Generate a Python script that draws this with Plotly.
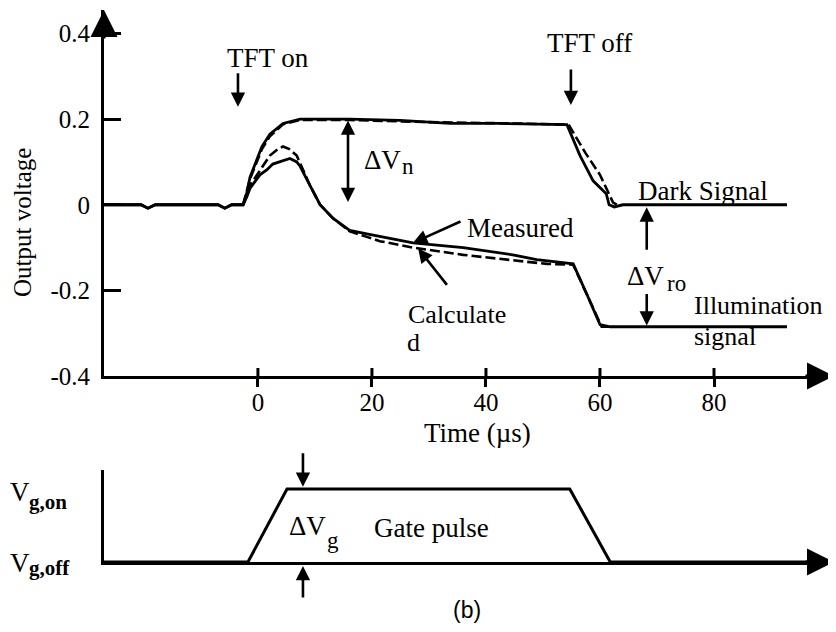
import plotly.graph_objects as go

# ---------------- data ----------------
# Time axis (µs)
x_tick_vals = [0, 20, 40, 60, 80]
x_tick_text = ["0", "20", "40", "60", "80"]
y_tick_vals = [-0.4, -0.2, 0, 0.2, 0.4]
y_tick_text = ["-0.4", "-0.2", "0", "0.2", "0.4"]

# Dark signal, measured (solid)
t_dark_meas = [-27, -20.5, -19.3, -18, -7, -5.8, -4.6, -2.6, -1.9, -1.4, 0.7, 2.1, 4.4, 7.4,
               16.1, 24.9, 33.7, 42.5, 54.2, 56.5, 58.8, 61.1, 61.6, 62.5, 64, 92.8]
v_dark_meas = [0, 0, -0.008, 0, 0, -0.008, 0, 0, 0.03, 0.064, 0.136, 0.165, 0.19, 0.2,
               0.2, 0.197, 0.19, 0.19, 0.187, 0.115, 0.056, 0.026, 0.0, -0.005, 0, 0]

# Dark signal, calculated (dashed)
t_dark_calc = [-2.6, -1.4, 0.7, 2.1, 4.4, 7.4, 16.1, 30, 45, 54.5, 57.5, 60, 62.3, 63]
v_dark_calc = [0, 0.06, 0.13, 0.16, 0.188, 0.198, 0.198, 0.193, 0.19, 0.187, 0.12, 0.07, 0.005, 0]

# Illumination signal, measured (solid)
t_illum_meas = [-27, -20.5, -19.3, -18, -7, -5.8, -4.6, -2.6, -1.9, -1.4, 0.35, 1.6, 2.6, 4.4,
                5.6, 6.8, 7.4, 9.1, 10.9, 13.2, 16.1, 19.1, 21.4, 24.9, 27.2, 36.0, 44.7,
                48.9, 55.3, 57.7, 60.0, 61.8, 92.8]
v_illum_meas = [0, 0, -0.008, 0, 0, -0.008, 0, 0, 0.02, 0.038, 0.07, 0.082, 0.095, 0.103,
                0.108, 0.1, 0.09, 0.046, 0, -0.032, -0.060, -0.068, -0.074, -0.083, -0.089,
                -0.1, -0.117, -0.128, -0.138, -0.209, -0.28, -0.285, -0.285]

# Illumination signal, calculated (dashed)
t_illum_calc = [-2.6, -1.4, 0.35, 2.1, 3.5, 4.4, 5.5, 6.8, 9.1, 10.9, 13.2, 16.1, 19.1, 21.4,
                27.2, 36.0, 47.7, 50.7, 55.3, 57.7, 60.3, 62.5]
v_illum_calc = [0, 0.045, 0.08, 0.115, 0.13, 0.136, 0.13, 0.115, 0.046, 0, -0.032, -0.062,
                -0.075, -0.085, -0.1, -0.117, -0.134, -0.138, -0.14, -0.209, -0.285, -0.285]

# Gate pulse (Vg,off = 0, Vg,on = 1)
t_gate = [-27, -1.75, 5.1, 54.7, 61.8, 101]
v_gate = [0, 0, 1, 1, 0, 0]

# ---------------- figure ----------------
SERIF = "Liberation Serif"
FS = 27
TICK_FS = 25
X_RANGE = [-27, 101.05]
TOP_DOM = [0.33696, 1.0]
BOT_DOM = [0.0, 0.16667]

fig = go.Figure()
solid = dict(color="black", width=2.8)
dashed = dict(color="black", width=2.6, dash="10px,4px")

fig.add_trace(go.Scatter(x=t_illum_meas, y=v_illum_meas, mode="lines", line=solid,
                         xaxis="x", yaxis="y", showlegend=False, hoverinfo="skip"))
fig.add_trace(go.Scatter(x=t_dark_meas, y=v_dark_meas, mode="lines", line=solid,
                         xaxis="x", yaxis="y", showlegend=False, hoverinfo="skip"))
fig.add_trace(go.Scatter(x=t_illum_calc, y=v_illum_calc, mode="lines", line=dashed,
                         xaxis="x", yaxis="y", showlegend=False, hoverinfo="skip"))
fig.add_trace(go.Scatter(x=t_dark_calc, y=v_dark_calc, mode="lines", line=dashed,
                         xaxis="x", yaxis="y", showlegend=False, hoverinfo="skip"))
fig.add_trace(go.Scatter(x=t_gate, y=v_gate, mode="lines", line=dict(color="black", width=3),
                         xaxis="x2", yaxis="y2", showlegend=False, hoverinfo="skip"))

ann = []


def txt(x, y, s, xref="x", yref="y", size=FS, xanchor="center", yanchor="middle",
        family=SERIF, **kw):
    ann.append(dict(x=x, y=y, xref=xref, yref=yref, text=s, showarrow=False,
                    xanchor=xanchor, yanchor=yanchor,
                    font=dict(family=family, size=size, color="black"), **kw))


def arrow(x, y, ax, ay, xref="x", yref="y", size=1.1, width=2.6, **kw):
    ann.append(dict(x=x, y=y, xref=xref, yref=yref, ax=ax, ay=ay, text="",
                    showarrow=True, arrowhead=2, arrowsize=size, arrowwidth=width,
                    arrowcolor="black", **kw))


# axis arrows
arrow(0, 1.0, 0, 30, xref="paper", yref="paper", size=1.8, width=3)
arrow(1.0, TOP_DOM[0], -30, 0, xref="paper", yref="paper", size=1.8, width=3)
arrow(1.0, 0.0, -30, 0, xref="paper", yref="paper", size=1.8, width=3)

# TFT on / off
txt(1.75, 0.343, "TFT on")
arrow(-3.5, 0.229, 0, -35)
txt(58.2, 0.378, "TFT off")
arrow(54.9, 0.233, 0, -37)

# Delta V_n
arrow(15.8, 0.197, 15.8, 0.003, axref="x", ayref="y", arrowside="end+start")
txt(18.2, 0.1047, "ΔV", xanchor="left")
txt(24.9, 0.0883, "n", xanchor="left", size=23)

# Dark signal label
txt(78.1, 0, "Dark Signal", yshift=14)

# Delta V_ro
arrow(68.2, -0.006, 0, 44)
arrow(68.2, -0.282, 0, -33)
txt(64.4, -0.166, "ΔV", xanchor="left")
txt(71.4, -0.185, "ro", xanchor="left", size=23)

# Illumination signal
txt(76.1, -0.235, "Illumination", xanchor="left", size=26)
txt(76.1, -0.307, "signal", xanchor="left", size=26)

# Measured / Calculated
txt(46.0, -0.054, "Measured")
arrow(27.2, -0.089, 49, -22)
txt(34.9, -0.256, "Calculate", size=26)
txt(25.8, -0.321, "d", xanchor="left", size=26)
arrow(28.1, -0.102, 30, 38)

# axis titles
txt(-0.111, 0.616, "Output voltage", xref="paper", yref="paper", textangle=-90, size=25)
txt(38.6, 0.2337, "Time (µs)", yref="paper")

# gate pulse panel
txt(-0.1315, 0.1268, "V", xref="paper", yref="paper", xanchor="left")
txt(-0.1055, 0.1087, "<b>g,on</b>", xref="paper", yref="paper", xanchor="left", size=21)
txt(-0.1315, -0.0018, "V", xref="paper", yref="paper", xanchor="left")
txt(-0.1055, -0.0109, "<b>g,off</b>", xref="paper", yref="paper", xanchor="left", size=21)
txt(5.1, 0.49, "ΔV", xref="x2", yref="y2", xanchor="left")
txt(11.75, 0.288, "g", xref="x2", yref="y2", xanchor="left", size=23)
txt(30.4, 0.466, "Gate pulse", xref="x2", yref="y2")
arrow(7.9, 1.03, 0, -35, xref="x2", yref="y2")
arrow(7.9, -0.0072, 0, 33, xref="x2", yref="paper")

txt(0.497, -0.087, "(b)", xref="paper", yref="paper", family="Liberation Sans", size=23)

# upper half of the x ticks (ticks cross the axis in the original)
shapes = [dict(type="line", xref="x", yref="paper", x0=tv, x1=tv,
               y0=TOP_DOM[0], y1=TOP_DOM[0] + 8 / 552,
               line=dict(color="black", width=3)) for tv in x_tick_vals]

axis_common = dict(showgrid=False, zeroline=False, showline=True, linecolor="black",
                   linewidth=3, mirror=False)

# the page body has an 8px margin, so the figure is 8px smaller than the window
fig.update_layout(
    width=828, height=624,
    margin=dict(l=96, r=2, t=2, b=70),
    paper_bgcolor="white", plot_bgcolor="white",
    showlegend=False,
    font=dict(family=SERIF, size=FS, color="black"),
    xaxis=dict(domain=[0, 1], range=X_RANGE, anchor="y", tickvals=x_tick_vals,
               ticktext=x_tick_text, ticks="outside", ticklen=8, tickwidth=3,
               tickcolor="black", tickfont=dict(family=SERIF, size=TICK_FS),
               ticklabelstandoff=-6, **axis_common),
    yaxis=dict(domain=TOP_DOM, range=[-0.4, 0.455], anchor="x", tickvals=y_tick_vals,
               ticktext=y_tick_text, ticks="inside", ticklen=17, tickwidth=3,
               tickcolor="black", tickfont=dict(family=SERIF, size=TICK_FS),
               ticklabelstandoff=6, **axis_common),
    xaxis2=dict(domain=[0, 1], range=X_RANGE, anchor="y2", showticklabels=False,
                ticks="", **axis_common),
    yaxis2=dict(domain=BOT_DOM, range=[0, 1.26], anchor="x2", showticklabels=False,
                ticks="", **axis_common),
    annotations=ann,
    shapes=shapes,
)

fig.write_html("out.html")
